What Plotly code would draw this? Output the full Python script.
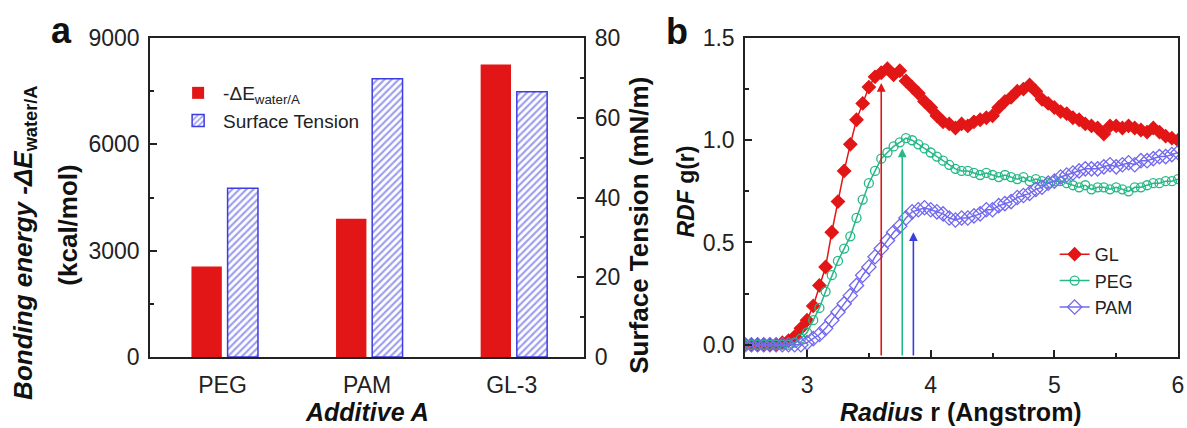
import numpy as np
import plotly.graph_objects as go

# ---------------- data ----------------
additives = ["PEG", "PAM", "GL-3"]
bond_energy = [2550, 3900, 8250]          # -dE water/A (kcal/mol)
surface_tension = [42.3, 69.8, 66.5]      # mN/m

radius = np.round(np.arange(2.5, 6.0001, 0.05), 2)
rdf_gl = [0, 0, 0, 0, 0, 0, 0.01, 0.02, 0.04, 0.08,
          0.12, 0.19, 0.29, 0.38, 0.55, 0.70, 0.85, 0.98, 1.10, 1.18,
          1.26, 1.31, 1.33, 1.35, 1.32, 1.34, 1.29, 1.26, 1.23, 1.19,
          1.16, 1.12, 1.09, 1.08, 1.06, 1.08, 1.07, 1.09, 1.10, 1.11,
          1.12, 1.16, 1.19, 1.21, 1.24, 1.25, 1.27, 1.24, 1.20, 1.18,
          1.16, 1.14, 1.13, 1.11, 1.10, 1.08, 1.07, 1.06, 1.03, 1.07,
          1.07, 1.06, 1.07, 1.06, 1.05, 1.04, 1.06, 1.04, 1.02, 1.01,
          1.00]
rdf_peg = [0, 0, 0, 0, 0, 0, 0, 0, 0.01, 0.03,
           0.06, 0.12, 0.18, 0.26, 0.34, 0.41, 0.47, 0.53, 0.62, 0.71,
           0.79, 0.85, 0.91, 0.94, 0.97, 0.99, 1.01, 1.00, 0.98, 0.96,
           0.94, 0.92, 0.90, 0.88, 0.86, 0.85, 0.85, 0.84, 0.83, 0.84,
           0.83, 0.82, 0.83, 0.82, 0.81, 0.82, 0.80, 0.81, 0.80, 0.79,
           0.80, 0.80, 0.79, 0.78, 0.77, 0.78, 0.76, 0.77, 0.77, 0.76,
           0.77, 0.76, 0.75, 0.77, 0.77, 0.78, 0.79, 0.79, 0.80, 0.80,
           0.81]
rdf_pam = [0, 0, 0, 0, 0, 0, 0, 0, 0, 0,
           0.01, 0.03, 0.05, 0.08, 0.12, 0.16, 0.20, 0.24, 0.29, 0.34,
           0.38, 0.43, 0.47, 0.51, 0.55, 0.58, 0.62, 0.65, 0.66, 0.67,
           0.66, 0.65, 0.64, 0.62, 0.61, 0.62, 0.62, 0.63, 0.64, 0.66,
           0.66, 0.68, 0.69, 0.70, 0.72, 0.73, 0.74, 0.76, 0.77, 0.79,
           0.80, 0.82, 0.83, 0.84, 0.85, 0.86, 0.86, 0.86, 0.87, 0.88,
           0.87, 0.88, 0.89, 0.88, 0.90, 0.90, 0.91, 0.92, 0.92, 0.93,
           0.94]

series_names = ["GL", "PEG", "PAM"]
peak_r = [3.60, 3.77, 3.86]
peak_g = [1.28, 0.96, 0.55]

# ---------------- styles ----------------
RED = "rgb(226,22,22)"
BLUE = "rgb(60,60,225)"
GREEN = "rgb(38,184,135)"
VIOLET = "rgb(115,105,238)"
FONT = "Liberation Sans, Arial, sans-serif"
AX = "#222222"
W, H = 1187, 428

fig = go.Figure()

fig.add_trace(go.Bar(
    x=additives, y=bond_energy, xaxis="x", yaxis="y",
    name="-ΔE<sub>water/A</sub>", legend="legend",
    marker=dict(color=RED, line=dict(width=0)),
    width=0.21, offset=-0.215,
))
fig.add_trace(go.Bar(
    x=additives, y=surface_tension, xaxis="x", yaxis="y2",
    name="Surface Tension", legend="legend",
    marker=dict(color="white", line=dict(color=BLUE, width=1.5),
                pattern=dict(shape="/", fgcolor=BLUE, bgcolor="white",
                             size=5, solidity=0.42)),
    width=0.21, offset=0.035,
))

line_specs = [
    (rdf_gl, RED, "diamond", RED, 10),
    (rdf_peg, GREEN, "circle-open", GREEN, 9),
    (rdf_pam, VIOLET, "diamond-open", VIOLET, 11),
]
for name, (vals, col, sym, mcol, msz) in zip(series_names, line_specs):
    fig.add_trace(go.Scatter(
        x=radius, y=vals, xaxis="x2", yaxis="y3", name=name, legend="legend2",
        mode="lines+markers",
        line=dict(color=col, width=1.5),
        marker=dict(symbol=sym, size=msz, color=mcol,
                    line=dict(color=mcol, width=1.3)),
    ))

def px_x(p):
    return p / W

def px_y(p):
    return (357 - p) / 319

tickfont = dict(family=FONT, size=23, color="#222")
common = dict(showline=True, linecolor=AX, linewidth=2, showgrid=False,
              zeroline=False, tickfont=tickfont, tickcolor=AX,
              ticklabeloverflow="allow")

fig.update_layout(
    width=W, height=H,
    margin=dict(l=0, r=0, t=38, b=71),
    paper_bgcolor="white", plot_bgcolor="white",
    font=dict(family=FONT, color="#222"),
    barmode="overlay",
    xaxis=dict(domain=[px_x(151), px_x(587)], anchor="y", type="category",
               range=[-0.5, 2.5], mirror=True, ticks="",
               ticklabelstandoff=6, **common),
    yaxis=dict(domain=[0, 1], anchor="x", range=[0, 9000],
               tickvals=[0, 3000, 6000, 9000], ticks="inside", ticklen=7,
               tickwidth=1.5, ticklabelstandoff=4,
               minor=dict(dtick=1500, tick0=0, ticks="inside", ticklen=4,
                          tickcolor=AX), **common),
    yaxis2=dict(overlaying="y", side="right", anchor="x", range=[0, 80],
                dtick=20, ticks="inside", ticklen=7, tickwidth=1.5,
                ticklabelstandoff=4,
                minor=dict(dtick=10, tick0=0, ticks="inside", ticklen=4,
                           tickcolor=AX), **common),
    xaxis2=dict(domain=[px_x(749), px_x(1184)], anchor="y3", range=[2.5, 6],
                dtick=1, tick0=0, ticks="inside", ticklen=7, tickwidth=1.5,
                mirror=True, ticklabelstandoff=6,
                minor=dict(dtick=0.5, tick0=0, ticks="inside", ticklen=4,
                           tickcolor=AX), **common),
    yaxis3=dict(domain=[0, 1], anchor="x2", range=[-0.06, 1.5],
                tickvals=[0, 0.5, 1.0, 1.5], tickformat=".1f",
                ticks="inside", ticklen=7, tickwidth=1.5, mirror=True,
                ticklabelstandoff=4,
                minor=dict(dtick=0.25, tick0=0, ticks="inside", ticklen=4,
                           tickcolor=AX), **common),
    legend=dict(x=px_x(174), y=px_y(74), xanchor="left", yanchor="top",
                bgcolor="rgba(0,0,0,0)", font=dict(family=FONT, size=19),
                tracegroupgap=0, itemwidth=40),
    legend2=dict(x=px_x(1060), y=px_y(236), xanchor="left", yanchor="top",
                 bgcolor="rgba(0,0,0,0)", font=dict(family=FONT, size=18),
                 tracegroupgap=0),
    showlegend=True,
)

annotations = []
for r, g, col in zip(peak_r, peak_g, [RED, GREEN, BLUE]):
    annotations.append(dict(
        x=r, y=g, ax=r, ay=-0.06, xref="x2", yref="y3", axref="x2",
        ayref="y3", showarrow=True, arrowhead=2, arrowsize=1.1,
        arrowwidth=1.6, arrowcolor=col, text="",
    ))

def label(text, x, y, size, angle=0):
    return dict(text=text, x=px_x(x), y=px_y(y), xref="paper", yref="paper",
                showarrow=False, textangle=angle, xanchor="center",
                yanchor="middle", font=dict(family=FONT, size=size, color="#111"))

annotations += [
    label("<b>a</b>", 62, 30, 36),
    label("<b>b</b>", 680, 32, 36),
    label("<b><i>Bonding energy -ΔE</i><sub>water/A</sub></b>", 24, 243, 26, -90),
    label("<b>(kcal/mol)</b>", 68, 225, 26, -90),
    label("<b>Surface Tension (mN/m)</b>", 642, 225, 26, -90),
    label("<b><i>RDF</i> g(r)</b>", 689, 192, 23, -90),
    label("<b><i>Additive A</i></b>", 369, 412, 25),
    label("<b><i>Radius</i> r (Angstrom)</b>", 966, 412, 25),
]
fig.update_layout(annotations=annotations)

fig.write_html("out.html")
